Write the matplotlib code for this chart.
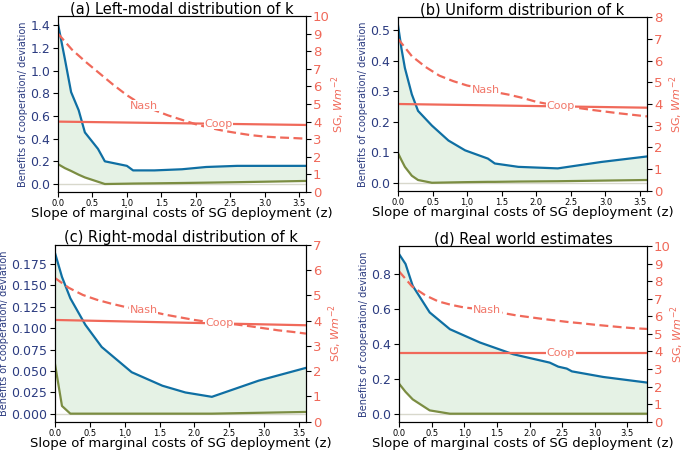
import numpy as np
import matplotlib
matplotlib.use("Agg")
from matplotlib import pyplot as plt
from matplotlib.ticker import MultipleLocator

# ---- data ----
# (a) Left-modal distribution of k
a_z = [0, 0.1, 0.19, 0.3, 0.39, 0.58, 0.68, 1.0, 1.09, 1.4, 1.8, 2.15, 2.6, 3.6]
a_benefit = [1.41, 1.10, 0.81, 0.65, 0.455, 0.31, 0.20, 0.16, 0.12, 0.12, 0.13, 0.15, 0.16, 0.16]
a_deviation = [0.175, 0.14, 0.115, 0.082, 0.058, 0.02, 0.0, 0.003, 0.004, 0.006, 0.009, 0.012, 0.016, 0.027]
a_nash_z = [0, 0.2, 0.4, 0.6, 0.8, 1.0, 1.2, 1.4, 1.6, 1.8, 2.0, 2.2, 2.4, 2.6, 2.8, 3.0, 3.2, 3.4, 3.6]
a_nash = [9.0, 8.1, 7.4, 6.75, 6.1, 5.5, 5.0, 4.65, 4.35, 4.1, 3.85, 3.65, 3.48, 3.35, 3.23, 3.15, 3.1, 3.07, 3.03]
a_coop_z = [0, 3.6]
a_coop = [4.0, 3.81]

# (b) Uniform distribution of k
b_z = [0, 0.05, 0.1, 0.2, 0.29, 0.49, 0.73, 0.97, 1.3, 1.4, 1.74, 2.31, 2.94, 3.6]
b_benefit = [0.517, 0.44, 0.376, 0.29, 0.236, 0.188, 0.139, 0.107, 0.08, 0.064, 0.053, 0.048, 0.069, 0.087]
b_deviation = [0.098, 0.075, 0.053, 0.024, 0.01, 0.001, 0.002, 0.003, 0.004, 0.004, 0.005, 0.006, 0.008, 0.01]
b_nash_z = [0, 0.2, 0.4, 0.6, 0.8, 1.0, 1.2, 1.4, 1.6, 1.8, 2.0, 2.2, 2.4, 2.6, 2.8, 3.0, 3.2, 3.4, 3.6]
b_nash = [7.0, 6.2, 5.7, 5.3, 5.05, 4.85, 4.72, 4.55, 4.43, 4.28, 4.1, 3.98, 3.9, 3.82, 3.73, 3.65, 3.57, 3.5, 3.43]
b_coop_z = [0, 3.6]
b_coop = [4.0, 3.83]

# (c) Right-modal distribution of k
c_z = [0, 0.1, 0.22, 0.435, 0.67, 1.1, 1.54, 1.87, 2.25, 2.92, 3.6]
c_benefit = [0.188, 0.16, 0.135, 0.104, 0.078, 0.0485, 0.0327, 0.0248, 0.0197, 0.0386, 0.0536]
c_deviation = [0.058, 0.009, 0.0, 0.0, 0.0, 0.0, 0.0, 0.0, 0.0, 0.001, 0.002]
c_nash_z = [0, 0.2, 0.4, 0.6, 0.8, 1.0, 1.2, 1.4, 1.6, 1.8, 2.0, 2.2, 2.4, 2.6, 2.8, 3.0, 3.2, 3.4, 3.6]
c_nash = [5.69, 5.3, 5.02, 4.83, 4.68, 4.55, 4.45, 4.35, 4.23, 4.13, 4.03, 3.95, 3.9, 3.85, 3.78, 3.7, 3.62, 3.56, 3.49]
c_coop_z = [0, 3.6]
c_coop = [4.03, 3.82]

# (d) Real world estimates
d_z = [0, 0.1, 0.21, 0.47, 0.78, 1.24, 1.75, 2.31, 2.44, 2.57, 2.65, 3.13, 3.8]
d_benefit = [0.913, 0.856, 0.731, 0.579, 0.483, 0.407, 0.34, 0.292, 0.269, 0.258, 0.242, 0.21, 0.178]
d_deviation = [0.172, 0.125, 0.082, 0.019, 0.0, 0.0, 0.0, 0.0, 0.0, 0.0, 0.0, 0.0, 0.0]
d_nash_z = [0, 0.2, 0.4, 0.6, 0.8, 1.0, 1.2, 1.4, 1.6, 1.8, 2.0, 2.2, 2.4, 2.6, 2.8, 3.0, 3.2, 3.4, 3.6, 3.8]
d_nash = [8.56, 7.7, 7.2, 6.85, 6.65, 6.5, 6.42, 6.33, 6.18, 6.05, 5.95, 5.85, 5.76, 5.67, 5.6, 5.52, 5.45, 5.38, 5.32, 5.28]
d_coop_z = [0, 3.8]
d_coop = [3.92, 3.92]

titles = ["(a) Left-modal distribution of k", "(b) Uniform distriburion of k",
          "(c) Right-modal distribution of k", "(d) Real world estimates"]
sg_max = [10, 8, 7, 10]
z_max = [3.6, 3.6, 3.6, 3.8]
benefit_step = [0.2, 0.1, 0.025, 0.2]
nash_label_z = [1.25, 1.27, 1.27, 1.35]
coop_label_z = [2.33, 2.35, 2.36, 2.48]

panels = [
    (a_z, a_benefit, a_deviation, a_nash_z, a_nash, a_coop_z, a_coop),
    (b_z, b_benefit, b_deviation, b_nash_z, b_nash, b_coop_z, b_coop),
    (c_z, c_benefit, c_deviation, c_nash_z, c_nash, c_coop_z, c_coop),
    (d_z, d_benefit, d_deviation, d_nash_z, d_nash, d_coop_z, d_coop),
]

# axes rectangles in figure fraction
boxes = [
    [0.0847, 0.5733, 0.3620, 0.3911],
    [0.5810, 0.5756, 0.3635, 0.3866],
    [0.0803, 0.0629, 0.3664, 0.3927],
    [0.5825, 0.0629, 0.3620, 0.3904],
]
# x position (axes coords) of the right-hand label
sg_label_x = [1.095, 1.082, 1.082, 1.088]

BLUE = "#0f6fa3"
OLIVE = "#7b8d42"
RED = "#f0695a"
NAVY = "#2b3b80"

fig = plt.figure(figsize=(6.85, 4.5), dpi=100)

for i, (z, ben, dev, nz, nash, cz, coop) in enumerate(panels):
    ax = fig.add_axes(boxes[i])
    ax.fill_between(z, dev, ben, color="g", alpha=0.1, linewidth=0)
    ax.axhline(0, color="#d8d8cc", lw=1, zorder=1)
    ax.plot(z, ben, color=BLUE, lw=1.6)
    ax.plot(z, dev, color=OLIVE, lw=1.6)
    ax.set_xlim(0, z_max[i])
    ax.yaxis.set_major_locator(MultipleLocator(benefit_step[i]))
    ax.tick_params(axis="x", labelsize=6, pad=1.5)
    ax.tick_params(axis="y", labelsize=9, labelcolor=NAVY, pad=2)
    ax.set_ylabel("Benefits of cooperation/ deviation", color=NAVY, fontsize=7, labelpad=1.5)
    ax.set_xlabel("Slope of marginal costs of SG deployment (z)", fontsize=9.5, labelpad=-0.5)
    ax.set_title(titles[i], fontsize=10.5, pad=2)

    ax2 = ax.twinx()
    ax2.plot(nz, nash, color=RED, lw=1.6, ls="--", dashes=(4, 2))
    ax2.plot(cz, coop, color=RED, lw=1.6)
    ax2.set_ylim(0, sg_max[i])
    ax2.set_yticks(range(0, sg_max[i] + 1))
    ax2.tick_params(axis="y", labelsize=9.5, labelcolor=RED, pad=1.5)
    ax2.set_ylabel("SG, $Wm^{-2}$", color=RED, fontsize=8)
    ax2.yaxis.set_label_coords(sg_label_x[i], 0.5)

    # inline labels on the SG lines
    for lz, name, xs, ys in [(nash_label_z[i], "Nash", nz, nash), (coop_label_z[i], "Coop", cz, coop)]:
        ax2.text(lz, np.interp(lz, xs, ys), name, color=RED, alpha=0.9, fontsize=8,
                 ha="center", va="center",
                 bbox=dict(boxstyle="square,pad=0.05", fc="white", ec="none"))

fig.savefig("out.png", dpi=100)
